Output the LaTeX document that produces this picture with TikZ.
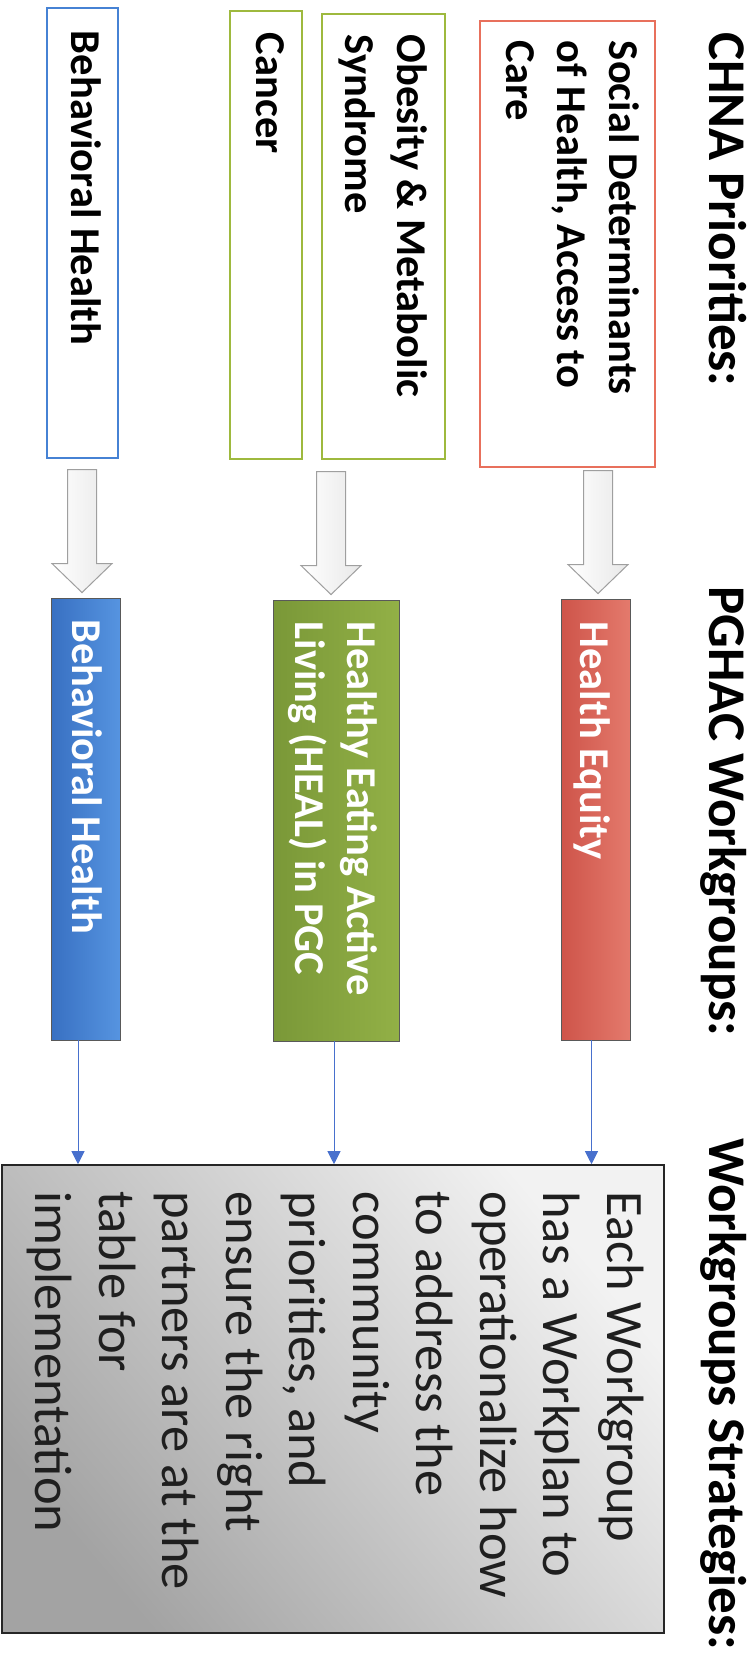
\documentclass[tikz,border=0pt]{standalone}
\usepackage{fontspec}
\setmainfont{Carlito}
\usetikzlibrary{calc,arrows.meta}
\definecolor{redo}{RGB}{232,112,92}
\definecolor{greeno}{RGB}{158,185,62}
\definecolor{blueo}{RGB}{70,130,212}
\definecolor{redf}{RGB}{206,84,74}
\definecolor{redl}{RGB}{228,122,108}
\definecolor{greenf}{RGB}{122,152,56}
\definecolor{greenl}{RGB}{146,176,70}
\definecolor{bluef}{RGB}{56,112,194}
\definecolor{bluel}{RGB}{86,148,224}
\definecolor{connblue}{RGB}{72,112,205}
\begin{document}
\begin{tikzpicture}[x=1pt,y=-1pt,
  head/.style={rotate=-90, anchor=base west, inner sep=0pt,
    font=\fontsize{53}{64}\selectfont\bfseries},
  otext/.style={rotate=-90, anchor=north west, inner sep=0pt, align=left,
    font=\fontsize{42.5}{51.5}\selectfont\bfseries},
  ftext/.style={otext, text=white},
  obox/.style={draw, line width=2.4pt, inner sep=0pt},
  fbox/.style={draw=black!65, line width=0.9pt, inner sep=0pt},
  harrow/.style={draw=gray!75, line width=1pt, left color=white, right color=gray!18},
  conn/.style={draw=connblue, line width=1pt, -{Triangle[length=13pt,width=13pt]}}
]
\useasboundingbox (0,0) rectangle (755,1662);

% headings
\node[head] (h1) at (709,32) {CHNA Priorities:};
\node[head] (h2) at (709,586) {PGHAC Workgroups:};
\node[head] (h3) at (709,1138) {Workgroups Strategies:};

% CHNA priority boxes
\node[obox, draw=redo, minimum width=175pt, minimum height=446pt] (sdoh) at (567.5,244) {};
\node[obox, draw=greeno, minimum width=123pt, minimum height=445pt] (obes) at (383.5,236.5) {};
\node[obox, draw=greeno, minimum width=72pt, minimum height=448pt] (canc) at (266,235) {};
\node[obox, draw=blueo, minimum width=71pt, minimum height=450pt] (bhp) at (82.5,233) {};

\node[otext] (sdohT) at ([xshift=-17pt,yshift=-21pt]sdoh.north east) {Social Determinants\\of Health, Access to\\Care};
\node[otext] (obesT) at ([xshift=-19pt,yshift=-22pt]obes.north east) {Obesity \& Metabolic\\Syndrome};
\node[otext] (cancT) at ([xshift=-19pt,yshift=-23pt]canc.north east) {Cancer};
\node[otext] (bhpT) at ([xshift=-18pt,yshift=-24pt]bhp.north east) {Behavioral Health};

% workgroup boxes
\node[fbox, left color=redf, right color=redl, minimum width=69pt, minimum height=441pt] (he) at (595.5,819.5) {};
\node[fbox, left color=greenf, right color=greenl, minimum width=126pt, minimum height=441pt] (heal) at (336,820.5) {};
\node[fbox, left color=bluef, right color=bluel, minimum width=69pt, minimum height=442pt] (bhw) at (85.5,819) {};

\node[ftext] (heT) at ([xshift=-20pt,yshift=-23pt]he.north east) {Health Equity};
\node[ftext] (healT) at ([xshift=-22pt,yshift=-22pt]heal.north east) {Healthy Eating Active\\Living (HEAL) in PGC};
\node[ftext] (bhwT) at ([xshift=-18pt,yshift=-22pt]bhw.north east) {Behavioral Health};

% strategies box
\node[draw=black!85, line width=1.6pt, inner sep=0pt, top color=black!5, bottom color=black!36, shading angle=-50,
  minimum width=662pt, minimum height=468pt] (strat) at (333,1399) {};
\node[rotate=-90, anchor=north west, inner sep=0pt, align=left, text=black!88,
  font=\fontsize{52.5}{63.5}\selectfont] (stratT) at ([xshift=-21pt,yshift=-27pt]strat.north east)
  {Each Workgroup\\has a Workplan to\\operationalize how\\to address the\\community\\priorities, and\\ensure the right\\partners are at the\\table for\\implementation};

% hollow arrows from priorities to workgroups
\coordinate (t1) at ($(he.north)+(2.5,-5)$);
\coordinate (t2) at ($(heal.north)+(-5,-5)$);
\coordinate (t3) at ($(bhw.north)+(-3.5,-5)$);
\foreach \t in {t1,t2,t3}{
  \draw[harrow] ($(\t)+(-14.5,-123)$) -- ($(\t)+(14.5,-123)$) -- ($(\t)+(14.5,-29)$)
    -- ($(\t)+(30,-29)$) -- (\t) -- ($(\t)+(-30,-29)$) -- ($(\t)+(-14.5,-29)$) -- cycle;
}

% connectors to strategies
\draw[conn] ([xshift=-4pt]he.south) -- ([xshift=-4pt]he.south |- strat.north);
\draw[conn] ([xshift=-2pt]heal.south) -- ([xshift=-2pt]heal.south |- strat.north);
\draw[conn] ([xshift=-7.5pt]bhw.south) -- ([xshift=-7.5pt]bhw.south |- strat.north);
\end{tikzpicture}
\end{document}
